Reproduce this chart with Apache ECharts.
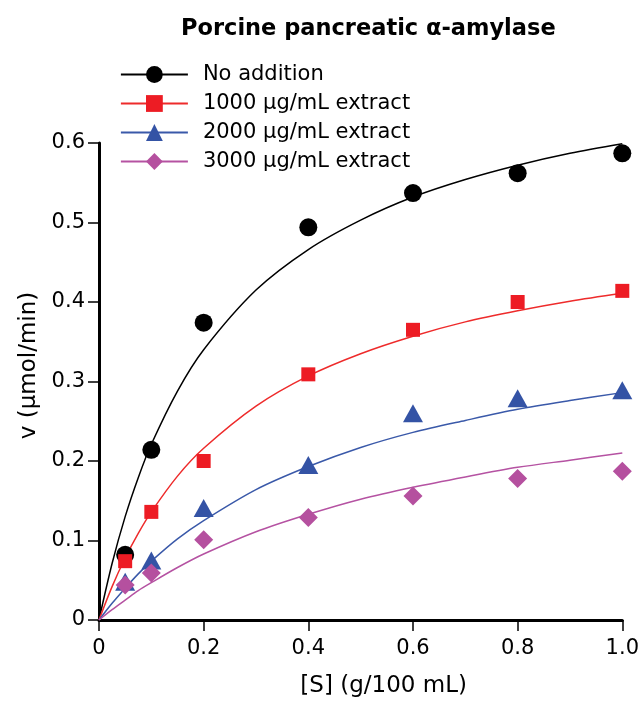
<!DOCTYPE html>
<html>
<head>
<meta charset="utf-8">
<script src="https://cdn.jsdelivr.net/npm/echarts@6/dist/echarts.min.js"></script>
<style>
  html, body { margin: 0; padding: 0; background: #fff; }
  #main { width: 642px; height: 703px; }
</style>
</head>
<body>
<div id="main"></div>
<script>
// measured points, [S] in g/100 mL
const substrate = [0.05, 0.1, 0.2, 0.4, 0.6, 0.8, 1.0];
const noAddition = [0.082, 0.214, 0.374, 0.494, 0.537, 0.562, 0.587];
const ext1000 = [0.074, 0.136, 0.200, 0.309, 0.365, 0.400, 0.414];
const ext2000 = [0.048, 0.075, 0.141, 0.195, 0.260, 0.279, 0.289];
const ext3000 = [0.044, 0.059, 0.101, 0.129, 0.156, 0.178, 0.187];

// fitted curves
const curveX = [0, 0.025, 0.05, 0.075, 0.1, 0.15, 0.2, 0.3, 0.4, 0.5, 0.6, 0.7, 0.8, 0.9, 1.0];
const fitNoAddition = [0, 0.071, 0.130, 0.179, 0.221, 0.288, 0.340, 0.415, 0.466, 0.503, 0.532, 0.554, 0.572, 0.587, 0.599];
const fit1000 = [0, 0.042, 0.078, 0.109, 0.136, 0.181, 0.216, 0.269, 0.307, 0.335, 0.357, 0.375, 0.389, 0.401, 0.411];
const fit2000 = [0, 0.021, 0.040, 0.058, 0.074, 0.102, 0.125, 0.164, 0.193, 0.217, 0.236, 0.251, 0.265, 0.276, 0.286];
const fit3000 = [0, 0.013, 0.025, 0.037, 0.047, 0.066, 0.083, 0.111, 0.133, 0.152, 0.167, 0.180, 0.192, 0.201, 0.210];

const names = ['No addition', '1000 \u03bcg/mL extract', '2000 \u03bcg/mL extract', '3000 \u03bcg/mL extract'];
const xTicks = [0, 0.2, 0.4, 0.6, 0.8, 1.0];
const yTicks = [0, 0.1, 0.2, 0.3, 0.4, 0.5, 0.6];

const font = 'DejaVu Sans, Liberation Sans, Arial, sans-serif';
const markerColors = ['#000000', '#ed1c24', '#3453a5', '#b5509f'];
const lineColors = ['#000000', '#ee2b2b', '#3a59a9', '#b552a2'];
const symbols = ['circle', 'rect', 'triangle', 'diamond'];
const symbolSizes = [18, 14, [20, 18], 19];

const pts = [noAddition, ext1000, ext2000, ext3000];
const fits = [fitNoAddition, fit1000, fit2000, fit3000];

const pair = (xs, ys) => xs.map((x, i) => [x, ys[i]]);
const fmt = (v) => (v === 0 ? '0' : v.toFixed(1));

let series = [];
fits.forEach((f, i) => {
  series.push({
    name: 'fit ' + i,
    type: 'line',
    data: pair(curveX, f),
    smooth: 0.3,
    symbol: 'none',
    lineStyle: { color: lineColors[i], width: 1.5 },
    z: 2,
    silent: true
  });
});
pts.forEach((p, i) => {
  series.push({
    name: names[i],
    type: 'line',
    data: pair(substrate, p),
    symbol: symbols[i],
    symbolSize: symbolSizes[i],
    showSymbol: true,
    itemStyle: { color: markerColors[i], opacity: 1 },
    lineStyle: { opacity: 0 },
    z: 5
  });
});

let myChart = echarts.init(document.getElementById('main'));

let options = {
  animation: false,
  title: {
    text: 'Porcine pancreatic \u03b1-amylase',
    left: 176,
    top: 13,
    textStyle: { fontFamily: font, fontSize: 22.5, fontWeight: 'bold', color: '#000' }
  },
  legend: {
    orient: 'vertical',
    left: 115,
    top: 59,
    itemWidth: 67,
    itemHeight: 21,
    itemGap: 8,
    selectedMode: false,
    data: names.map((n, i) => ({
      name: n,
      lineStyle: { color: lineColors[i], width: 1.8, opacity: 1 },
      itemStyle: { color: markerColors[i], opacity: 1 }
    })),
    textStyle: { fontFamily: font, fontSize: 21, color: '#000', padding: [0, 0, 0, 10], lineHeight: 21 }
  },
  grid: { left: 99, right: 18, top: 143, bottom: 80, containLabel: false },
  xAxis: {
    type: 'value',
    min: 0,
    max: 1,
    interval: 0.2,
    name: '[S] (g/100 mL)',
    nameLocation: 'middle',
    nameGap: 55,
    nameTextStyle: { fontFamily: font, fontSize: 23, color: '#000', padding: [0, 0, 0, 46] },
    axisLine: { show: true, lineStyle: { color: '#000', width: 3 } },
    axisTick: { show: true, inside: false, length: 11, lineStyle: { color: '#000', width: 1.5 } },
    axisLabel: { fontFamily: font, fontSize: 21, color: '#000', margin: 18, formatter: fmt },
    splitLine: { show: false }
  },
  yAxis: {
    type: 'value',
    min: 0,
    max: 0.6,
    interval: 0.1,
    name: 'v (\u03bcmol/min)',
    nameLocation: 'middle',
    nameGap: 57,
    nameTextStyle: { fontFamily: font, fontSize: 23, color: '#000', padding: [0, 0, 0, 32] },
    axisLine: { show: true, lineStyle: { color: '#000', width: 3 } },
    axisTick: { show: true, inside: false, length: 11, lineStyle: { color: '#000', width: 1.5 } },
    axisLabel: { fontFamily: font, fontSize: 21, color: '#000', margin: 14, formatter: fmt },
    splitLine: { show: false }
  },
  series: series
};

myChart.setOption(options);
</script>
</body>
</html>
